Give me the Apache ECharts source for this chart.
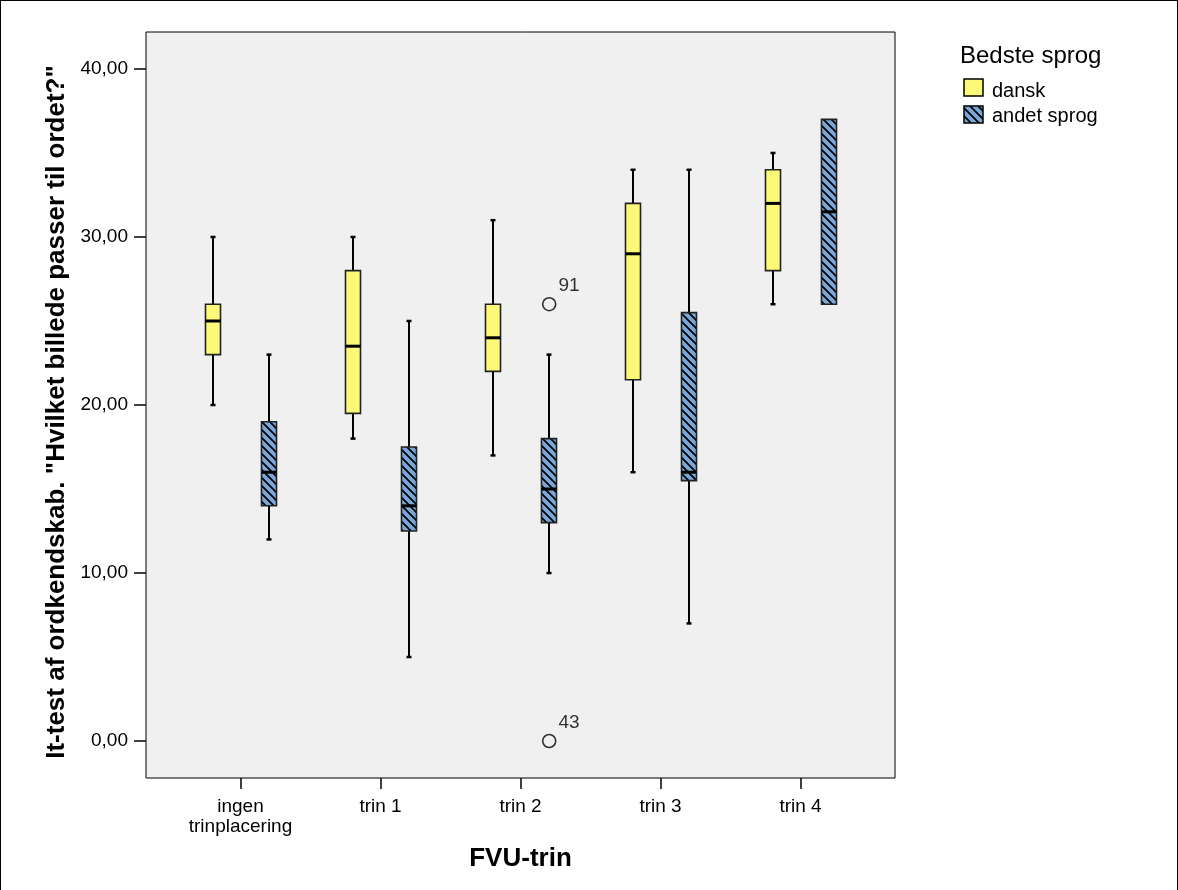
<!DOCTYPE html>
<html><head><meta charset="utf-8">
<script src="https://cdn.jsdelivr.net/npm/echarts@6/dist/echarts.min.js"></script>
<style>
html,body{margin:0;padding:0;background:#fff}
#c{position:absolute;left:0;top:0;width:1178px;height:890px}
#frame{position:absolute;left:0;top:0;width:1178px;height:890px;box-sizing:border-box;border:1px solid #000;border-bottom:none;pointer-events:none}
</style>
</head><body><div id="c"></div><div id="frame"></div>
<script>
const categories = ['ingen\ntrinplacering', 'trin 1', 'trin 2', 'trin 3', 'trin 4'];
const seriesNames = ['dansk', 'andet sprog'];
// each box: [min, Q1, median, Q3, max]
const danskBox = [
  [20, 23, 25, 26, 30],
  [18, 19.5, 23.5, 28, 30],
  [17, 22, 24, 26, 31],
  [16, 21.5, 29, 32, 34],
  [26, 28, 32, 34, 35]
];
const andetBox = [
  [12, 14, 16, 19, 23],
  [5, 12.5, 14, 17.5, 25],
  [10, 13, 15, 18, 23],
  [7, 15.5, 16, 25.5, 34],
  [26, 26, 31.5, 37, 37]
];
// outliers: [category index, value, case label]
const andetOutliers = [[2, 26, '91'], [2, 0, '43']];
const yTicks = [0, 10, 20, 30, 40];
const xTicks = [0, 1, 2, 3, 4];

const yellow = '#fbf977';
const blue = '#7aa7d8';

function hatch() {
  const s = 8;
  const cv = document.createElement('canvas');
  cv.width = s; cv.height = s;
  const g = cv.getContext('2d');
  g.fillStyle = blue; g.fillRect(0, 0, s, s);
  g.strokeStyle = '#000'; g.lineWidth = 1.7;
  g.beginPath();
  g.moveTo(-1, -1); g.lineTo(s + 1, s + 1);
  g.moveTo(-s - 1, -1); g.lineTo(1, s + 1);
  g.moveTo(s - 1, -1); g.lineTo(2 * s + 1, s + 1);
  g.stroke();
  return cv;
}
const bluePattern = { image: hatch(), repeat: 'repeat' };

function makeRender(offset, fill) {
  return function (params, api) {
    const x = api.value(0) + offset;
    const v = [api.value(1), api.value(2), api.value(3), api.value(4), api.value(5)];
    const p = v.map(val => api.coord([x, val]));
    const cx = Math.round(p[0][0]);
    const hw = 7.5;
    const ch = [];
    const ls = { stroke: '#000', lineWidth: 2 };
    if (v[0] < v[1]) {
      ch.push({ type: 'line', shape: { x1: cx, y1: p[0][1], x2: cx, y2: p[1][1] }, style: ls });
      ch.push({ type: 'line', shape: { x1: cx - 2.5, y1: p[0][1], x2: cx + 2.5, y2: p[0][1] }, style: { stroke: '#000', lineWidth: 2.5 } });
    }
    if (v[4] > v[3]) {
      ch.push({ type: 'line', shape: { x1: cx, y1: p[4][1], x2: cx, y2: p[3][1] }, style: ls });
      ch.push({ type: 'line', shape: { x1: cx - 2.5, y1: p[4][1], x2: cx + 2.5, y2: p[4][1] }, style: { stroke: '#000', lineWidth: 2.5 } });
    }
    ch.push({ type: 'rect', shape: { x: cx - hw, y: p[3][1], width: 2 * hw, height: p[1][1] - p[3][1] },
      style: { fill: fill, stroke: '#222', lineWidth: 1.6 } });
    ch.push({ type: 'line', shape: { x1: cx - hw, y1: p[2][1], x2: cx + hw, y2: p[2][1] }, style: { stroke: '#000', lineWidth: 3 } });
    return { type: 'group', children: ch };
  };
}

const chart = echarts.init(document.getElementById('c'), null, { renderer: 'canvas' });
const font = 'Liberation Sans, Arial, sans-serif';
const option = {
  animation: false,
  backgroundColor: '#fff',
  grid: {
    left: 146, top: 32, right: 283, bottom: 112,
    show: true, backgroundColor: '#f0f0f0', borderColor: '#000', borderWidth: 1
  },
  xAxis: {
    type: 'value', min: -0.675, max: 4.675,
    splitLine: { show: false },
    axisLine: { show: false, onZero: false },
    axisTick: { show: true, customValues: xTicks, length: 11, inside: false, lineStyle: { color: '#000', width: 1.5 } },
    axisLabel: {
      customValues: xTicks, margin: 19, color: '#000', fontSize: 19, fontFamily: font, lineHeight: 20,
      formatter: v => categories[Math.round(v)]
    },
    name: 'FVU-trin', nameLocation: 'middle', nameGap: 68,
    nameTextStyle: { fontSize: 26, fontWeight: 'bold', color: '#000', fontFamily: font }
  },
  yAxis: {
    type: 'value', min: -2.2, max: 42.2,
    splitLine: { show: false },
    axisLine: { show: false, onZero: false },
    axisTick: { show: true, customValues: yTicks, length: 12, lineStyle: { color: '#000', width: 1.5 } },
    axisLabel: {
      customValues: yTicks, margin: 18, color: '#000', fontSize: 19, fontFamily: font,
      formatter: v => v.toFixed(2).replace('.', ',')
    },
    name: 'It-test af ordkendskab. "Hvilket billede passer til ordet?"',
    nameLocation: 'middle', nameGap: 70, nameRotate: 90,
    nameTextStyle: { fontSize: 26, fontWeight: 'bold', color: '#000', fontFamily: font, padding: [0, 14, 0, 0] }
  },
  series: [
    {
      name: seriesNames[0], type: 'custom',
      renderItem: makeRender(-0.2, yellow),
      encode: { x: 0, y: [1, 2, 3, 4, 5] },
      data: danskBox.map((b, i) => [i].concat(b)), z: 3
    },
    {
      name: seriesNames[1], type: 'custom',
      renderItem: makeRender(0.205, bluePattern),
      encode: { x: 0, y: [1, 2, 3, 4, 5] },
      data: andetBox.map((b, i) => [i].concat(b)), z: 3
    },
    {
      name: seriesNames[1] + ' outliers', type: 'scatter',
      symbol: 'circle', symbolSize: 13,
      itemStyle: { color: 'rgba(0,0,0,0)', borderColor: '#000', borderWidth: 1.6 },
      label: {
        show: true, position: 'right', distance: 2, offset: [0, -18],
        color: '#000', fontSize: 19, fontFamily: font,
        formatter: p => p.data.name
      },
      data: andetOutliers.map(o => ({ value: [o[0] + 0.205, o[1]], name: o[2] })), z: 4
    }
  ],
  graphic: [
    { type: 'text', left: 960, top: 44, style: { text: 'Bedste sprog', fontSize: 24, fill: '#000', fontFamily: font } },
    { type: 'rect', shape: { x: 964, y: 79, width: 19, height: 17 }, style: { fill: yellow, stroke: '#000', lineWidth: 1.5 } },
    { type: 'text', left: 992, top: 81, style: { text: seriesNames[0], fontSize: 20, fill: '#000', fontFamily: font } },
    { type: 'rect', shape: { x: 964, y: 106, width: 19, height: 17 }, style: { fill: bluePattern, stroke: '#000', lineWidth: 1.5 } },
    { type: 'text', left: 992, top: 106, style: { text: seriesNames[1], fontSize: 20, fill: '#000', fontFamily: font } }
  ]
};
chart.setOption(option);
</script>
</body></html>
